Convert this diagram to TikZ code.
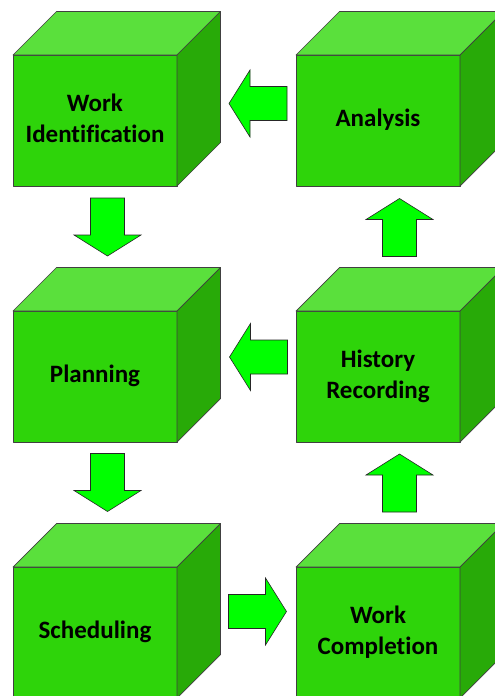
\documentclass[tikz,border=0pt]{standalone}
\usepackage{fontspec}
\setmainfont{Carlito}[Ligatures=NoCommon]
\definecolor{frontc}{RGB}{46,212,10}
\definecolor{topc}{RGB}{90,224,60}
\definecolor{sidec}{RGB}{40,170,8}
\definecolor{arrowc}{RGB}{0,255,0}
\newcommand\blockarrow[2]{%
  \draw[barrow, shift={(#1)}, rotate=#2] (-29,-17) -- (8,-17) -- (8,-33.5) -- (29,0)
    -- (8,33.5) -- (8,17) -- (-29,17) -- cycle;}
\newcommand\cubetext[1]{\raisebox{3pt}{\begin{tabular}{@{}c@{}}#1\end{tabular}}}
\begin{document}
\begin{tikzpicture}[x=1pt,y=-1pt,
  face/.style={draw=black!75, line width=0.7pt, line join=round},
  cube/.style={face, fill=frontc, minimum width=164pt, minimum height=131pt,
    anchor=north west, inner sep=0pt, outer sep=0pt,
    font=\bfseries\fontsize{25}{31}\selectfont, text=black},
  topface/.style={face, fill=topc},
  sideface/.style={face, fill=sidec},
  barrow/.style={draw=black!85, fill=arrowc, line width=0.6pt, line join=miter}]
\clip (0,0) rectangle (495,696);
\def\dep{43.5}
% cubes
\foreach \name/\x/\y/\txt in {wi/13/55/{Work\\Identification},
    an/296/55/{Analysis},
    pl/13/311/{Planning},
    hr/296/311/{History\\Recording},
    sc/13/567/{Scheduling},
    wc/296/567/{Work\\Completion}}{
  \node[cube] (\name) at (\x,\y) {\cubetext{\txt}};
  \draw[topface] (\name.north west) -- ++(\dep,-\dep) -- ++(164,0) -- (\name.north east) -- cycle;
  \draw[sideface] (\name.north east) -- ++(\dep,-\dep) -- ++(0,131) -- (\name.south east) -- cycle;
}
% arrows
\coordinate (a1) at (258,103.5);
\coordinate (a2) at (258.5,357);
\coordinate (a3) at (257.5,611.5);
\coordinate (a4) at (107.5,227);
\coordinate (a5) at (107.5,482.5);
\coordinate (a6) at (399.5,227.5);
\coordinate (a7) at (399.5,483);
\blockarrow{a1}{180}
\blockarrow{a2}{180}
\blockarrow{a3}{0}
\blockarrow{a4}{-90}
\blockarrow{a5}{-90}
\blockarrow{a6}{90}
\blockarrow{a7}{90}
\end{tikzpicture}
\end{document}
